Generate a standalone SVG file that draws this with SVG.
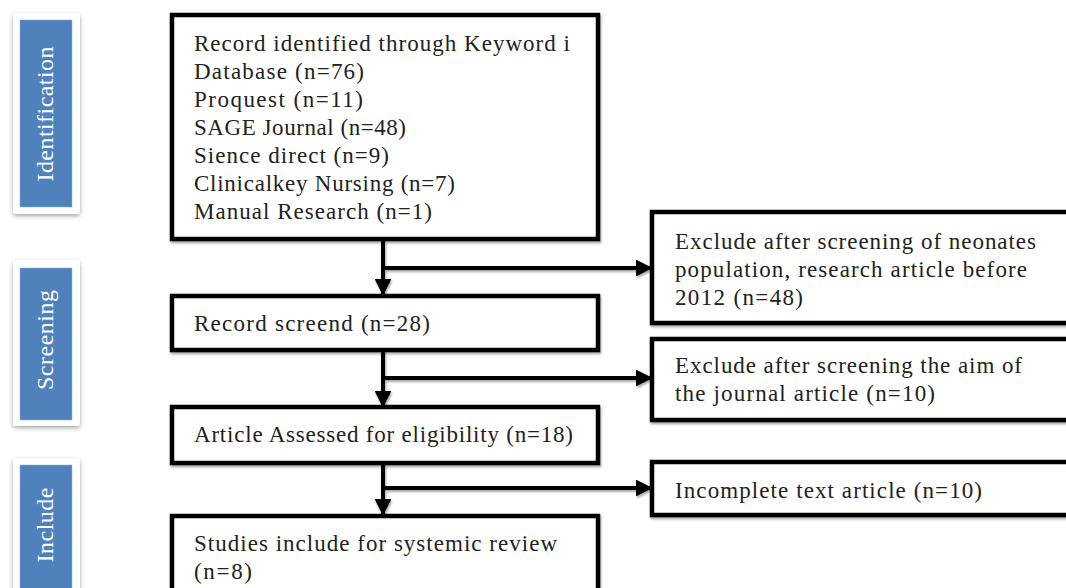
<svg xmlns="http://www.w3.org/2000/svg" width="1066" height="588" viewBox="0 0 1066 588">
<style>
.box{fill:#fff;stroke:#000;stroke-width:4.5;filter:url(#sh)}
.t{font-family:"Liberation Serif","DejaVu Serif",serif;font-size:23px;fill:#222}
.lab{font-family:"Liberation Serif","DejaVu Serif",serif;font-size:24px;fill:#fff}
.tab{fill:#fff;filter:url(#sh2)}
.blue{fill:#4F81BD;stroke:#8fb0d8;stroke-width:0.5}
.c{stroke:#000;stroke-width:4;fill:none}
</style>
<defs>
<filter id="sh" x="-10%" y="-10%" width="130%" height="130%">
<feDropShadow dx="1" dy="2" stdDeviation="1.2" flood-color="#000" flood-opacity="0.35"/>
</filter>
<filter id="sh2" x="-30%" y="-10%" width="160%" height="130%">
<feDropShadow dx="0" dy="2" stdDeviation="2" flood-color="#000" flood-opacity="0.35"/>
</filter>
<filter id="shc" filterUnits="userSpaceOnUse" x="0" y="0" width="1066" height="588">
<feDropShadow dx="1" dy="2" stdDeviation="1.2" flood-color="#000" flood-opacity="0.35"/>
</filter>
<marker id="ah" viewBox="0 0 10 10" refX="9" refY="5" markerWidth="4.2" markerHeight="4.2" orient="auto" markerUnits="strokeWidth">
<path d="M0,0 L10,5 L0,10 Z" fill="#000"/>
</marker>
</defs>

<g id="tab-identification">
<rect class="tab" x="13" y="13" width="67" height="201" rx="3"/>
<rect class="blue" x="20" y="20" width="52" height="187"/>
<text class="lab" transform="translate(53,114) rotate(-90)" text-anchor="middle" textLength="135" lengthAdjust="spacing">Identification</text>
</g>
<g id="tab-screening">
<rect class="tab" x="13" y="260" width="67" height="166" rx="3"/>
<rect class="blue" x="20" y="268" width="52" height="152"/>
<text class="lab" transform="translate(53,340) rotate(-90)" text-anchor="middle" textLength="100" lengthAdjust="spacing">Screening</text>
</g>
<g id="tab-include">
<rect class="tab" x="13" y="458" width="67" height="140" rx="3"/>
<rect class="blue" x="20" y="465" width="52" height="130"/>
<text class="lab" transform="translate(53,525) rotate(-90)" text-anchor="middle" textLength="75" lengthAdjust="spacing">Include</text>
</g>

<g id="connectors" filter="url(#shc)">
<line class="c" x1="383" y1="240" x2="383" y2="294" marker-end="url(#ah)"/>
<line class="c" x1="383" y1="268" x2="651" y2="268" marker-end="url(#ah)"/>
<line class="c" x1="383" y1="350" x2="383" y2="406" marker-end="url(#ah)"/>
<line class="c" x1="383" y1="378" x2="651" y2="378" marker-end="url(#ah)"/>
<line class="c" x1="383" y1="463" x2="383" y2="514" marker-end="url(#ah)"/>
<line class="c" x1="383" y1="488" x2="651" y2="488" marker-end="url(#ah)"/>
</g>

<g id="records-identified">
<rect class="box" x="172" y="15" width="426" height="224"/>
<text class="t" x="194" y="51" textLength="376" lengthAdjust="spacing">Record identified through Keyword i</text>
<text class="t" x="194" y="79" textLength="170" lengthAdjust="spacing">Database (n=76)</text>
<text class="t" x="194" y="107" textLength="169" lengthAdjust="spacing">Proquest (n=11)</text>
<text class="t" x="194" y="135" textLength="212" lengthAdjust="spacing">SAGE Journal (n=48)</text>
<text class="t" x="194" y="163" textLength="195" lengthAdjust="spacing">Sience direct (n=9)</text>
<text class="t" x="194" y="191" textLength="261" lengthAdjust="spacing">Clinicalkey Nursing (n=7)</text>
<text class="t" x="194" y="219" textLength="238" lengthAdjust="spacing">Manual Research (n=1)</text>
</g>

<g id="record-screened">
<rect class="box" x="172" y="296" width="426" height="54"/>
<text class="t" x="194" y="331" textLength="236" lengthAdjust="spacing">Record screend (n=28)</text>
</g>

<g id="assessed-eligibility">
<rect class="box" x="172" y="407" width="426" height="56"/>
<text class="t" x="194" y="442" textLength="379" lengthAdjust="spacing">Article Assessed for eligibility (n=18)</text>
</g>

<g id="studies-included">
<rect class="box" x="172" y="516" width="426" height="90"/>
<text class="t" x="194" y="551" textLength="363" lengthAdjust="spacing">Studies include for systemic review</text>
<text class="t" x="194" y="579" textLength="58" lengthAdjust="spacing">(n=8)</text>
</g>

<g id="exclude-neonates">
<rect class="box" x="652" y="212" width="430" height="111"/>
<text class="t" x="675" y="249" textLength="361" lengthAdjust="spacing">Exclude after screening of neonates</text>
<text class="t" x="675" y="277" textLength="352" lengthAdjust="spacing">population, research article before</text>
<text class="t" x="675" y="305" textLength="128" lengthAdjust="spacing">2012 (n=48)</text>
</g>

<g id="exclude-aim">
<rect class="box" x="652" y="339" width="430" height="81"/>
<text class="t" x="675" y="373" textLength="347" lengthAdjust="spacing">Exclude after screening the aim of</text>
<text class="t" x="675" y="401" textLength="260" lengthAdjust="spacing">the journal article (n=10)</text>
</g>

<g id="incomplete-text">
<rect class="box" x="652" y="462" width="430" height="53"/>
<text class="t" x="675" y="498" textLength="307" lengthAdjust="spacing">Incomplete text article (n=10)</text>
</g>
</svg>
